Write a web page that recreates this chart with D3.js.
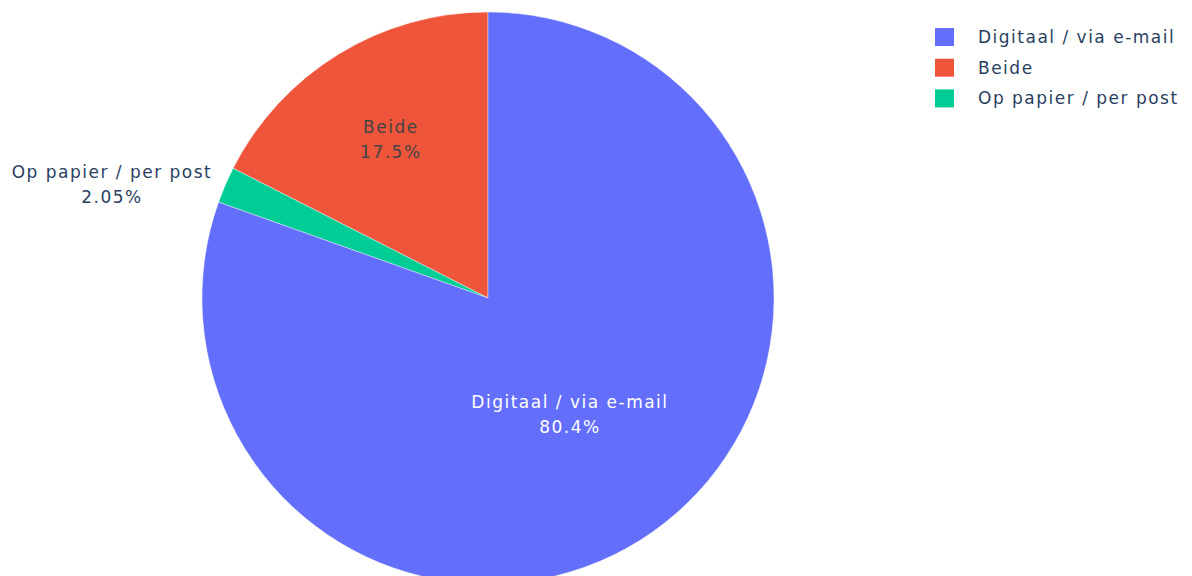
<!DOCTYPE html>
<html>
<head>
<meta charset="utf-8">
<script src="https://cdn.jsdelivr.net/npm/d3@7"></script>
<style>
  html, body { margin: 0; padding: 0; background: #fff; }
  svg { display: block; }
  text { font-family: "DejaVu Sans", Verdana, sans-serif; letter-spacing: 1.5px; }
</style>
</head>
<body>
<svg id="chart" width="1192" height="576"></svg>
<script>
// Slice data, in the order the slices run counterclockwise from 12 o'clock
const categories = ["Beide", "Op papier / per post", "Digitaal / via e-mail"];
const values = [17.5, 2.05, 80.4];
const colors = ["#EF553B", "#00cc96", "#636efa"];
// Legend order
const legendOrder = ["Digitaal / via e-mail", "Beide", "Op papier / per post"];

const svg = d3.select("#chart");
const cx = 488, cy = 298, R = 286;

const total = d3.sum(values);
const data = categories.map((c, i) => ({ name: c, value: values[i], color: colors[i] }));

const pie = d3.pie().sort(null).value(d => d.value).startAngle(0).endAngle(-2 * Math.PI);
const arcs = pie(data);
const arc = d3.arc().innerRadius(0).outerRadius(R);

const g = svg.append("g").attr("transform", `translate(${cx},${cy})`);

g.selectAll("path.slice")
  .data(arcs)
  .join("path")
  .attr("class", "slice")
  .attr("d", arc)
  .attr("fill", d => d.data.color)
  .attr("stroke", "#fff")
  .attr("stroke-width", 0.4);

const fmt = v => d3.format(".3~r")(v / total * 100) + "%";

// Inside labels: placed along the slice's mid angle
const insideFrac = { "Beide": 0.65, "Digitaal / via e-mail": 0.497 };
const insideColor = { "Beide": "#444", "Digitaal / via e-mail": "#fff" };
const fontSize = 17, lineH = 25;

arcs.forEach(a => {
  const mid = (a.startAngle + a.endAngle) / 2;
  const name = a.data.name;
  if (insideFrac[name] !== undefined) {
    const r = R * insideFrac[name];
    const x = r * Math.sin(mid), y = -r * Math.cos(mid);
    const t = g.append("text")
      .attr("text-anchor", "middle")
      .attr("font-size", fontSize)
      .attr("fill", insideColor[name]);
    t.append("tspan").attr("x", x).attr("y", y - lineH / 2 + 6).text(name);
    t.append("tspan").attr("x", x).attr("y", y + lineH / 2 + 6).text(fmt(a.value));
  } else {
    // Outside label, to the left of the slice edge
    const ex = R * Math.sin(mid), ey = -R * Math.cos(mid);
    const t = g.append("text")
      .attr("text-anchor", "middle")
      .attr("font-size", fontSize)
      .attr("fill", "#2a3f5f");
    const l1 = t.append("tspan").text(name);
    const l2 = t.append("tspan").text(fmt(a.value));
    const w = Math.max(l1.node().getComputedTextLength(), l2.node().getComputedTextLength());
    const x = ex - 13 - w / 2;
    l1.attr("x", x).attr("y", ey - lineH / 2 + 6);
    l2.attr("x", x).attr("y", ey + lineH / 2 + 6);
  }
});

// Legend
const legend = svg.append("g").attr("transform", "translate(935,37)");
legendOrder.forEach((name, i) => {
  const idx = categories.indexOf(name);
  const row = legend.append("g").attr("transform", `translate(0,${i * 30.7})`);
  row.append("rect")
    .attr("x", 0).attr("y", -9)
    .attr("width", 19).attr("height", 18)
    .attr("fill", colors[idx]);
  row.append("text")
    .attr("x", 43).attr("y", 6)
    .attr("font-size", fontSize)
    .attr("fill", "#2a3f5f")
    .text(name);
});
</script>
</body>
</html>
